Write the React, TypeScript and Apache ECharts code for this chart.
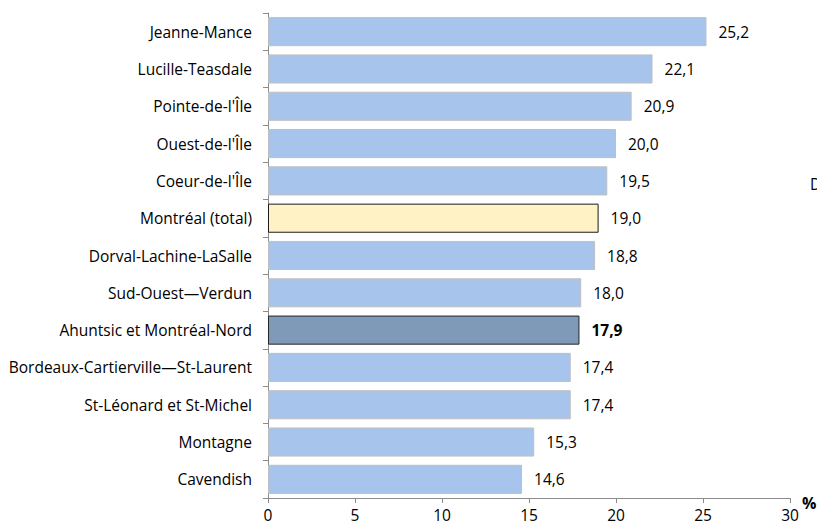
import React, { useEffect, useRef } from "react";
import * as echarts from "echarts";

const categories = [
  "Jeanne-Mance",
  "Lucille-Teasdale",
  "Pointe-de-l'Île",
  "Ouest-de-l'Île",
  "Coeur-de-l'Île",
  "Montréal (total)",
  "Dorval-Lachine-LaSalle",
  "Sud-Ouest—Verdun",
  "Ahuntsic et Montréal-Nord",
  "Bordeaux-Cartierville—St-Laurent",
  "St-Léonard et St-Michel",
  "Montagne",
  "Cavendish",
];
const values = [25.2, 22.1, 20.9, 20.0, 19.5, 19.0, 18.8, 18.0, 17.9, 17.4, 17.4, 15.3, 14.6];
const totalCategory = "Montréal (total)";
const highlightCategory = "Ahuntsic et Montréal-Nord";
const xTicks = { min: 0, max: 30, interval: 5 };

const FONT = "'Open Sans', sans-serif";

export default function App() {
  const ref = useRef<HTMLDivElement>(null);
  useEffect(() => {
    if (!ref.current) return;
    const chart = echarts.init(ref.current, undefined, { renderer: "svg" });
    const data = categories.map((c, i) => {
      const v = values[i];
      if (c === totalCategory) {
        return {
          value: v,
          itemStyle: { color: "#FFF2C4", borderColor: "#1a1a1a", borderWidth: 1 },
        };
      }
      if (c === highlightCategory) {
        return {
          value: v,
          itemStyle: { color: "#7F99B9", borderColor: "#262626", borderWidth: 1 },
          label: { fontWeight: "bold" },
        };
      }
      return { value: v };
    });
    chart.setOption({
      animation: false,
      textStyle: { fontFamily: FONT },
      grid: { left: 268, right: 27, top: 13, bottom: 29, containLabel: false },
      xAxis: {
        type: "value",
        min: xTicks.min,
        max: xTicks.max,
        interval: xTicks.interval,
        axisLine: { show: true, lineStyle: { color: "#8c8c8c", width: 1 } },
        axisTick: { show: true, length: 5, lineStyle: { color: "#8c8c8c" } },
        splitLine: { show: false },
        axisLabel: { color: "#000", fontSize: 15.5, fontFamily: FONT, margin: 9 },
      },
      yAxis: {
        type: "category",
        data: categories,
        inverse: true,
        axisLine: { show: true, lineStyle: { color: "#8c8c8c", width: 1 } },
        axisTick: { show: true, length: 5, inside: false, lineStyle: { color: "#8c8c8c" } },
        axisLabel: { color: "#000", fontSize: 15.5, fontFamily: FONT, margin: 16 },
      },
      series: [
        {
          type: "bar",
          data,
          barCategoryGap: "22%",
          itemStyle: { color: "#A7C5EC", borderColor: "#BFBFBF", borderWidth: 1 },
          label: {
            show: true,
            position: "right",
            distance: 12,
            color: "#000",
            fontSize: 15.5,
            fontFamily: FONT,
            formatter: (p: any) => Number(p.value).toFixed(1).replace(".", ","),
          },
        },
      ],
      graphic: [
        {
          type: "text",
          left: 802,
          top: 495,
          style: { text: "%", fontSize: 16, fontWeight: "bold", fill: "#000", fontFamily: FONT },
        },
        {
          type: "text",
          left: 810,
          top: 176,
          style: { text: "D", fontSize: 15.5, fill: "#000", fontFamily: FONT },
        },
      ],
    });
    return () => chart.dispose();
  }, []);
  return (
    <div
      ref={ref}
      style={{ position: "fixed", left: 0, top: 0, width: 817, height: 527, background: "#fff" }}
    />
  );
}
